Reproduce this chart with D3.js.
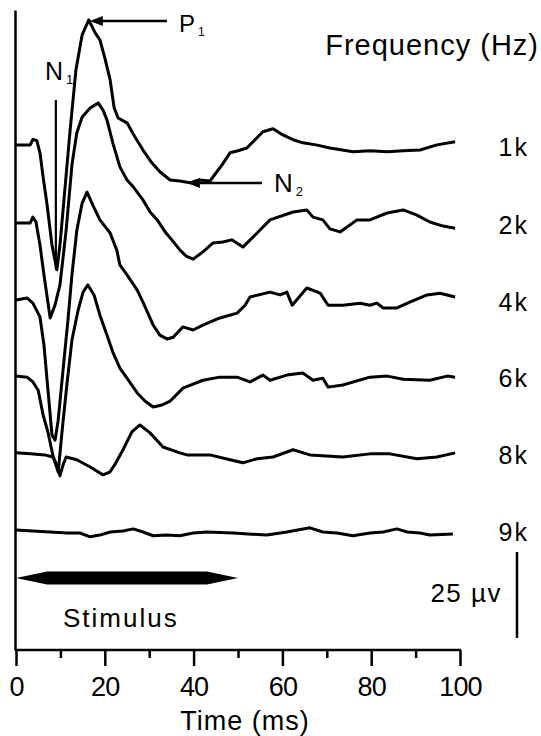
<!DOCTYPE html>
<html>
<head>
<meta charset="utf-8">
<script src="https://cdn.jsdelivr.net/npm/d3@7"></script>
<style>
  body { margin: 0; background: #fff; }
  text { font-family: "Liberation Sans", Arial, sans-serif; fill: #000; }
</style>
</head>
<body>
<div id="chart"></div>
<script>
// frequency labels, one trace per frequency
var frequencies = ["1k", "2k", "4k", "6k", "8k", "9k"];

// vertical offset of each trace (µV), so they stack
var traceOffsets = [0, -22.7, -45.1, -67.2, -89.5, -111.9];

// traces: [time ms, amplitude µV]
var trace1k = [[0,0],[3.2,0],[3.8,1.6],[4.7,1.2],[5.4,-2.3],[6.1,-9.3],[7.0,-17.4],[8.1,-29.1],[9.2,-36.3],
  [9.9,-29.1],[10.8,-16.0],[12.2,4.4],[13.5,21.8],[14.9,32.0],[16.4,36.3],[17.8,32.6],[18.9,30.5],[20.0,25.3],
  [21.2,18.9],[22.1,10.8],[23.0,7.8],[25.0,6.4],[26.8,2.3],[28.6,-1.5],[30.6,-5.2],[32.4,-7.8],[34.7,-10.2],
  [36.9,-10.5],[39.2,-11.0],[41.4,-10.2],[43.7,-10.5],[46.4,-5.8],[48.2,-2.3],[50.0,-1.7],[52.0,-0.9],[55.6,3.8],
  [57.9,4.7],[60.1,2.9],[62.4,1.5],[64.6,0.6],[67.6,0],[70.7,-0.9],[75.9,-2.0],[79.7,-1.7],[83.6,-2.0],
  [87.2,-1.7],[91.0,-1.5],[94.8,0],[98.9,0.9]];
var trace2k = [[0,0],[3.2,0],[3.8,1.7],[4.5,0.3],[5.4,-6.4],[6.3,-15.1],[7.7,-27.6],[8.8,-23.8],[9.9,-18.0],
  [11.3,-2.0],[12.6,16.9],[13.7,26.2],[14.9,30.8],[16.7,33.4],[18.5,34.9],[19.6,32.8],[20.5,29.9],[21.8,23.3],
  [23.4,16.3],[25.0,12.5],[26.4,10.5],[28.6,6.7],[30.2,3.2],[31.8,0.9],[33.6,-2.6],[35.1,-4.9],[36.9,-7.8],
  [38.3,-9.6],[39.9,-10.5],[42.1,-8.4],[44.4,-5.8],[46.6,-5.5],[48.6,-4.9],[51.1,-7.0],[54.3,-2.9],[57.2,0.9],
  [62.4,3.2],[65.5,3.8],[66.9,1.7],[69.1,0.9],[70.7,-1.7],[73.0,-2.6],[76.8,0.9],[79.7,0.9],[83.6,2.9],
  [87.2,3.8],[90.3,2.3],[93.2,0.3],[96.2,-0.9],[98.9,-1.5]];
var trace4k = [[0,0],[2.5,0.6],[3.8,-0.9],[5.4,-4.9],[6.3,-13.1],[7.2,-26.2],[8.1,-39.2],[8.8,-40.7],[9.5,-34.9],
  [10.6,-20.3],[11.7,-5.8],[12.6,7.3],[13.7,20.3],[14.9,28.2],[16.0,31.4],[17.3,27.6],[18.9,23.3],[21.2,19.5],
  [22.7,14.5],[23.4,10.2],[25.0,7.3],[27.3,2.9],[28.6,-0.6],[30.9,-7.3],[32.4,-10.2],[34.0,-11.3],[35.4,-10.8],
  [37.6,-7.8],[39.9,-8.7],[42.1,-7.3],[45.9,-5.2],[49.8,-3.8],[51.6,-1.5],[52.7,0.9],[57.2,2.3],[59.5,1.5],
  [61.0,2.3],[62.2,-1.5],[65.5,3.5],[68.5,2.0],[70.3,-1.5],[73.6,-1.5],[77.5,-0.9],[79.7,-1.5],[81.3,-0.9],
  [82.7,-2.3],[85.8,-2.3],[88.7,-0.6],[92.6,1.5],[95.5,2.0],[98.9,0.9]];
var trace6k = [[0,0],[2.5,-0.3],[3.8,-1.7],[5.0,-4.1],[6.1,-11.3],[7.2,-16.3],[8.3,-23.0],[9.5,-27.9],[10.4,-15.7],
  [11.5,-2.0],[12.6,10.5],[14.0,19.2],[15.1,24.4],[16.2,26.5],[17.6,23.5],[18.9,17.7],[20.5,11.9],[21.8,7.0],
  [23.4,2.3],[25.0,-0.6],[27.3,-4.9],[29.1,-7.3],[30.9,-9.0],[32.9,-8.4],[34.7,-7.3],[37.6,-3.5],[42.1,-1.2],
  [45.9,-0.3],[49.8,-0.3],[52.7,-1.7],[55.6,0.3],[57.2,-1.2],[61.0,0.3],[64.6,0.9],[66.9,-1.2],[69.1,-0.6],
  [70.3,-3.2],[73.6,-2.6],[79.7,-0.3],[83.6,0],[87.2,-0.9],[93.2,-1.2],[97.1,0],[98.9,-0.3]];
var trace8k = [[0,0],[3.2,-0.3],[6.5,-0.6],[8.3,-1.2],[9.2,-3.5],[9.9,-6.7],[10.6,-3.5],[11.3,-1.2],[13.7,-2.0],
  [16.7,-4.1],[19.6,-6.4],[21.2,-5.5],[22.5,-2.9],[24.1,0.9],[26.1,6.1],[27.9,8.1],[30.2,5.8],[33.1,1.7],
  [36.9,0],[38.5,-0.6],[43.7,-0.6],[48.2,-2.0],[51.1,-2.9],[54.3,-1.7],[57.9,-1.2],[62.4,0.9],[66.2,-0.6],
  [73.6,-1.2],[79.7,-0.3],[84.2,-0.3],[90.3,-1.7],[94.8,-1.2],[98.9,0]];
var trace9k = [[0,0],[3.8,-0.3],[7.7,-0.6],[11.5,-0.9],[14.4,-0.9],[16.7,-2.0],[18.9,-1.5],[21.2,-0.6],[24.1,-0.3],
  [26.4,0.3],[28.6,-0.6],[30.9,-1.7],[34.0,-1.5],[36.9,-1.7],[39.9,-0.9],[43.0,-0.6],[48.9,-0.9],[56.5,-1.5],
  [61.0,-0.6],[66.2,0.6],[69.1,-0.6],[72.3,-0.9],[75.9,-1.7],[79.7,-0.9],[82.7,-0.6],[85.8,0.3],[88.1,-0.6],
  [91.0,-0.9],[93.2,-1.5],[98.4,-1.2]];
var traces = [trace1k, trace2k, trace4k, trace6k, trace8k, trace9k];

// axis ticks
var majorTicks = [0, 20, 40, 60, 80, 100];
var minorTicks = [10, 30, 50, 70, 90];

// stimulus duration (ms) and scale bar (µV)
var stimulus = [0, 50];
var scaleBarValue = 25;

// peak annotations on the 1k trace: [time ms, amplitude µV]
var p1Peak = [16.4, 36.3];
var n1Peak = [9.2, -36.3];
var n2Peak = [38.5, -10.8];

var width = 541, height = 736;

var svg = d3.select("#chart").append("svg")
  .attr("width", width)
  .attr("height", height);

var x = d3.scaleLinear().domain([0, 100]).range([16, 460]);
var y = d3.scaleLinear().domain([-146.8, 39.2]).range([650, 10]);

// axes
var xAxisMajor = svg.append("g")
  .attr("transform", "translate(0," + y.range()[0] + ")")
  .call(d3.axisBottom(x).tickValues(majorTicks).tickSize(16).tickSizeOuter(0).tickPadding(11));
xAxisMajor.select(".domain").attr("stroke-width", 2.5).attr("d", "M" + (x(0) - 1) + ",0H" + (x(100) + 1));
xAxisMajor.selectAll(".tick line").attr("stroke-width", 2.5);
xAxisMajor.selectAll(".tick text")
  .style("font-family", "'Liberation Sans', Arial, sans-serif")
  .style("font-size", "27px")
  .attr("dy", "0.71em")
  .attr("letter-spacing", "-0.8px");

var xAxisMinor = svg.append("g")
  .attr("transform", "translate(0," + y.range()[0] + ")")
  .call(d3.axisBottom(x).tickValues(minorTicks).tickSize(8).tickSizeOuter(0).tickFormat(""));
xAxisMinor.select(".domain").remove();
xAxisMinor.selectAll(".tick line").attr("stroke-width", 2.5);

var yAxis = svg.append("g")
  .attr("transform", "translate(" + (x(0) - 1) + ",0)")
  .call(d3.axisLeft(y).tickValues([]).tickSizeOuter(0));
yAxis.select(".domain").attr("stroke-width", 2.5);

svg.append("text")
  .attr("x", 245)
  .attr("y", 730)
  .attr("text-anchor", "middle")
  .style("font-size", "27px")
  .attr("letter-spacing", "1px")
  .text("Time (ms)");

// traces
var line = d3.line()
  .x(function (d) { return x(d[0]); })
  .y(function (d) { return y(d[1]); });

svg.selectAll(".trace")
  .data(traces)
  .enter()
  .append("path")
  .attr("class", "trace")
  .attr("fill", "none")
  .attr("stroke", "#000")
  .attr("stroke-width", 3)
  .attr("stroke-linejoin", "round")
  .attr("d", function (d, i) {
    return line(d.map(function (p) { return [p[0], p[1] + traceOffsets[i]]; }));
  });

// frequency labels
svg.selectAll(".freq")
  .data(frequencies)
  .enter()
  .append("text")
  .attr("class", "freq")
  .attr("x", 529)
  .attr("y", function (d, i) { return y(traceOffsets[i]) + 11; })
  .attr("text-anchor", "end")
  .attr("letter-spacing", "2px")
  .style("font-size", "25px")
  .text(function (d) { return d; });

svg.append("text")
  .attr("x", 539)
  .attr("y", 55)
  .attr("text-anchor", "end")
  .attr("letter-spacing", "1px")
  .style("font-size", "29px")
  .text("Frequency (Hz)");

// left-pointing arrow used for P1 and N2
function arrow(x1, x2, yy) {
  svg.append("line")
    .attr("x1", x1).attr("x2", x2 + 10)
    .attr("y1", yy).attr("y2", yy)
    .attr("stroke", "#000").attr("stroke-width", 2.5);
  svg.append("path")
    .attr("d", "M" + x2 + "," + yy + "L" + (x2 + 13) + "," + (yy - 5) + "L" + (x2 + 13) + "," + (yy + 5) + "Z")
    .attr("fill", "#000");
}

arrow(167, x(p1Peak[0]) + 1, y(p1Peak[1]) + 1);
arrow(262, x(n2Peak[0]), y(n2Peak[1]) + 1);

function peakLabel(lx, ly, main, sub, size) {
  var t = svg.append("text")
    .attr("x", lx)
    .attr("y", ly)
    .style("font-size", size + "px");
  t.append("tspan").text(main);
  t.append("tspan")
    .attr("dx", 3)
    .attr("dy", 4)
    .style("font-size", Math.round(size * 0.5) + "px")
    .text(sub);
}

peakLabel(179, 32, "P", "1", 24);
peakLabel(45, 80, "N", "1", 25);
peakLabel(274, 192, "N", "2", 26);

// N1 marker line
svg.append("line")
  .attr("x1", x(n1Peak[0]) - 1).attr("x2", x(n1Peak[0]) - 1)
  .attr("y1", 100).attr("y2", y(n1Peak[1]))
  .attr("stroke", "#000").attr("stroke-width", 2.2);

// stimulus bar (double-headed arrow)
var stimY = 578, stimHalf = 6.5, headLen = 7;
svg.append("path")
  .attr("fill", "#000")
  .attr("d", "M" + x(stimulus[0]) + "," + stimY +
    "L" + x(stimulus[0] + headLen) + "," + (stimY - stimHalf) +
    "L" + x(stimulus[1] - headLen) + "," + (stimY - stimHalf) +
    "L" + x(stimulus[1]) + "," + stimY +
    "L" + x(stimulus[1] - headLen) + "," + (stimY + stimHalf) +
    "L" + x(stimulus[0] + headLen) + "," + (stimY + stimHalf) + "Z");

svg.append("text")
  .attr("x", 63)
  .attr("y", 627)
  .attr("letter-spacing", "2px")
  .style("font-size", "26px")
  .text("Stimulus");

// scale bar
var barTop = 552;
var barLen = y(0) - y(scaleBarValue);
svg.append("line")
  .attr("x1", 517).attr("x2", 517)
  .attr("y1", barTop).attr("y2", barTop + barLen)
  .attr("stroke", "#000").attr("stroke-width", 2.5);

svg.append("text")
  .attr("x", 502)
  .attr("y", 602)
  .attr("text-anchor", "end")
  .attr("letter-spacing", "1.5px")
  .style("font-size", "26px")
  .text(scaleBarValue + " \u00b5v");
</script>
</body>
</html>
